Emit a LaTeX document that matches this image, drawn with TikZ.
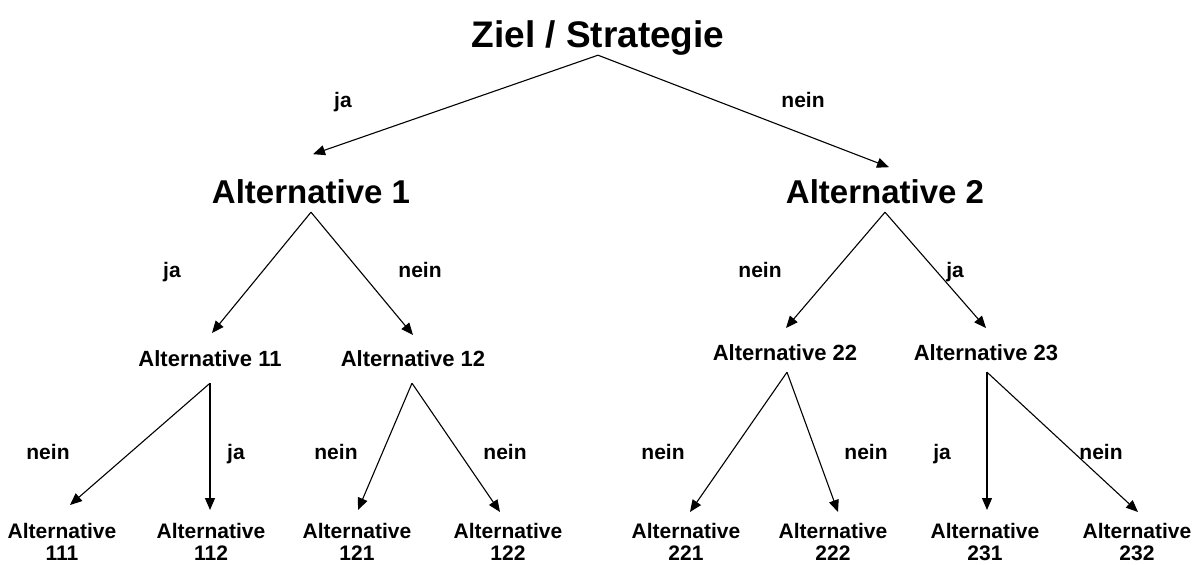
\documentclass[tikz,border=0pt]{standalone}
\usepackage{fontspec}
\setmainfont{Liberation Sans}
\usetikzlibrary{arrows.meta}
\begin{document}
\begin{tikzpicture}[x=1pt,y=-1pt,
 every node/.style={inner sep=0pt},
 big/.style={font=\fontsize{37}{40}\selectfont\bfseries, text height=26.5pt, text depth=0pt, anchor=base},
 mid/.style={font=\fontsize{33}{36}\selectfont\bfseries, text height=23.6pt, text depth=0pt, anchor=base},
 small/.style={font=\fontsize{22}{24}\selectfont\bfseries, text height=15.8pt, text depth=0pt, anchor=base},
 leaf/.style={font=\fontsize{21}{22}\selectfont\bfseries, align=center, anchor=north},
 lbl/.style={font=\fontsize{21}{23}\selectfont\bfseries, anchor=base},
 arr/.style={-{Triangle[length=12pt,width=10pt]}, line width=1.1pt},
]
\useasboundingbox (0,0) rectangle (1192,565);
% nodes
\node[big] (z) at (598,47) {Ziel / Strategie};
\node[mid] (a1) at (311,203) {Alternative 1};
\node[mid] (a2) at (885,203) {Alternative 2};
\node[small] (a11) at (210,366) {Alternative 11};
\node[small] (a12) at (413,366) {Alternative 12};
\node[small] (a22) at (785,360) {Alternative 22};
\node[small] (a23) at (986,360) {Alternative 23};
\node[leaf] (a111) at (62,523) {Alternative\\111};
\node[leaf] (a112) at (211,523) {Alternative\\112};
\node[leaf] (a121) at (357,523) {Alternative\\121};
\node[leaf] (a122) at (508,523) {Alternative\\122};
\node[leaf] (a221) at (686,523) {Alternative\\221};
\node[leaf] (a222) at (833,523) {Alternative\\222};
\node[leaf] (a231) at (985,523) {Alternative\\231};
\node[leaf] (a232) at (1137,523) {Alternative\\232};
% connectors
\draw[arr] ([yshift=-8pt]z.south) -- ([xshift=2pt,yshift=25pt]a1.north);
\draw[arr] ([yshift=-8pt]z.south) -- ([xshift=4pt,yshift=12pt]a2.north);
\draw[arr] ([yshift=-9pt]a1.south) -- ([xshift=2pt,yshift=17pt]a11.north);
\draw[arr] ([yshift=-9pt]a1.south) -- ([yshift=15pt]a12.north);
\draw[arr] ([yshift=-9pt]a2.south) -- ([xshift=1pt,yshift=16pt]a22.north);
\draw[arr] ([yshift=-9pt]a2.south) -- ([yshift=16pt]a23.north);
\draw[arr] ([yshift=-17pt]a11.south) -- ([xshift=8pt,yshift=18pt]a111.north);
\draw[arr] ([yshift=-17pt]a11.south) -- ([xshift=-1pt,yshift=13pt]a112.north);
\draw[arr] ([xshift=-1pt,yshift=-17pt]a12.south) -- ([xshift=1pt,yshift=13pt]a121.north);
\draw[arr] ([xshift=-1pt,yshift=-17pt]a12.south) -- ([xshift=-8pt,yshift=11pt]a122.north);
\draw[arr] ([xshift=2pt,yshift=-12pt]a22.south) -- ([xshift=4pt,yshift=11pt]a221.north);
\draw[arr] ([xshift=2pt,yshift=-12pt]a22.south) -- ([xshift=5pt,yshift=11pt]a222.north);
\draw[arr] ([xshift=1pt,yshift=-12pt]a23.south) -- ([xshift=2pt,yshift=13pt]a231.north);
\draw[arr] ([xshift=1pt,yshift=-12pt]a23.south) -- ([xshift=1pt,yshift=11pt]a232.north);
% labels
\node[lbl] (l1) at (343,107) {ja};
\node[lbl] (l2) at (803,107) {nein};
\node[lbl] (l3) at (172,277) {ja};
\node[lbl] (l4) at (420,277) {nein};
\node[lbl] (l5) at (760,277) {nein};
\node[lbl] (l6) at (955,277) {ja};
\node[lbl] (l7) at (48,459) {nein};
\node[lbl] (l8) at (236,459) {ja};
\node[lbl] (l9) at (336,459) {nein};
\node[lbl] (l10) at (505,459) {nein};
\node[lbl] (l11) at (663,459) {nein};
\node[lbl] (l12) at (866,459) {nein};
\node[lbl] (l13) at (942,459) {ja};
\node[lbl] (l14) at (1101,459) {nein};
\end{tikzpicture}
\end{document}
